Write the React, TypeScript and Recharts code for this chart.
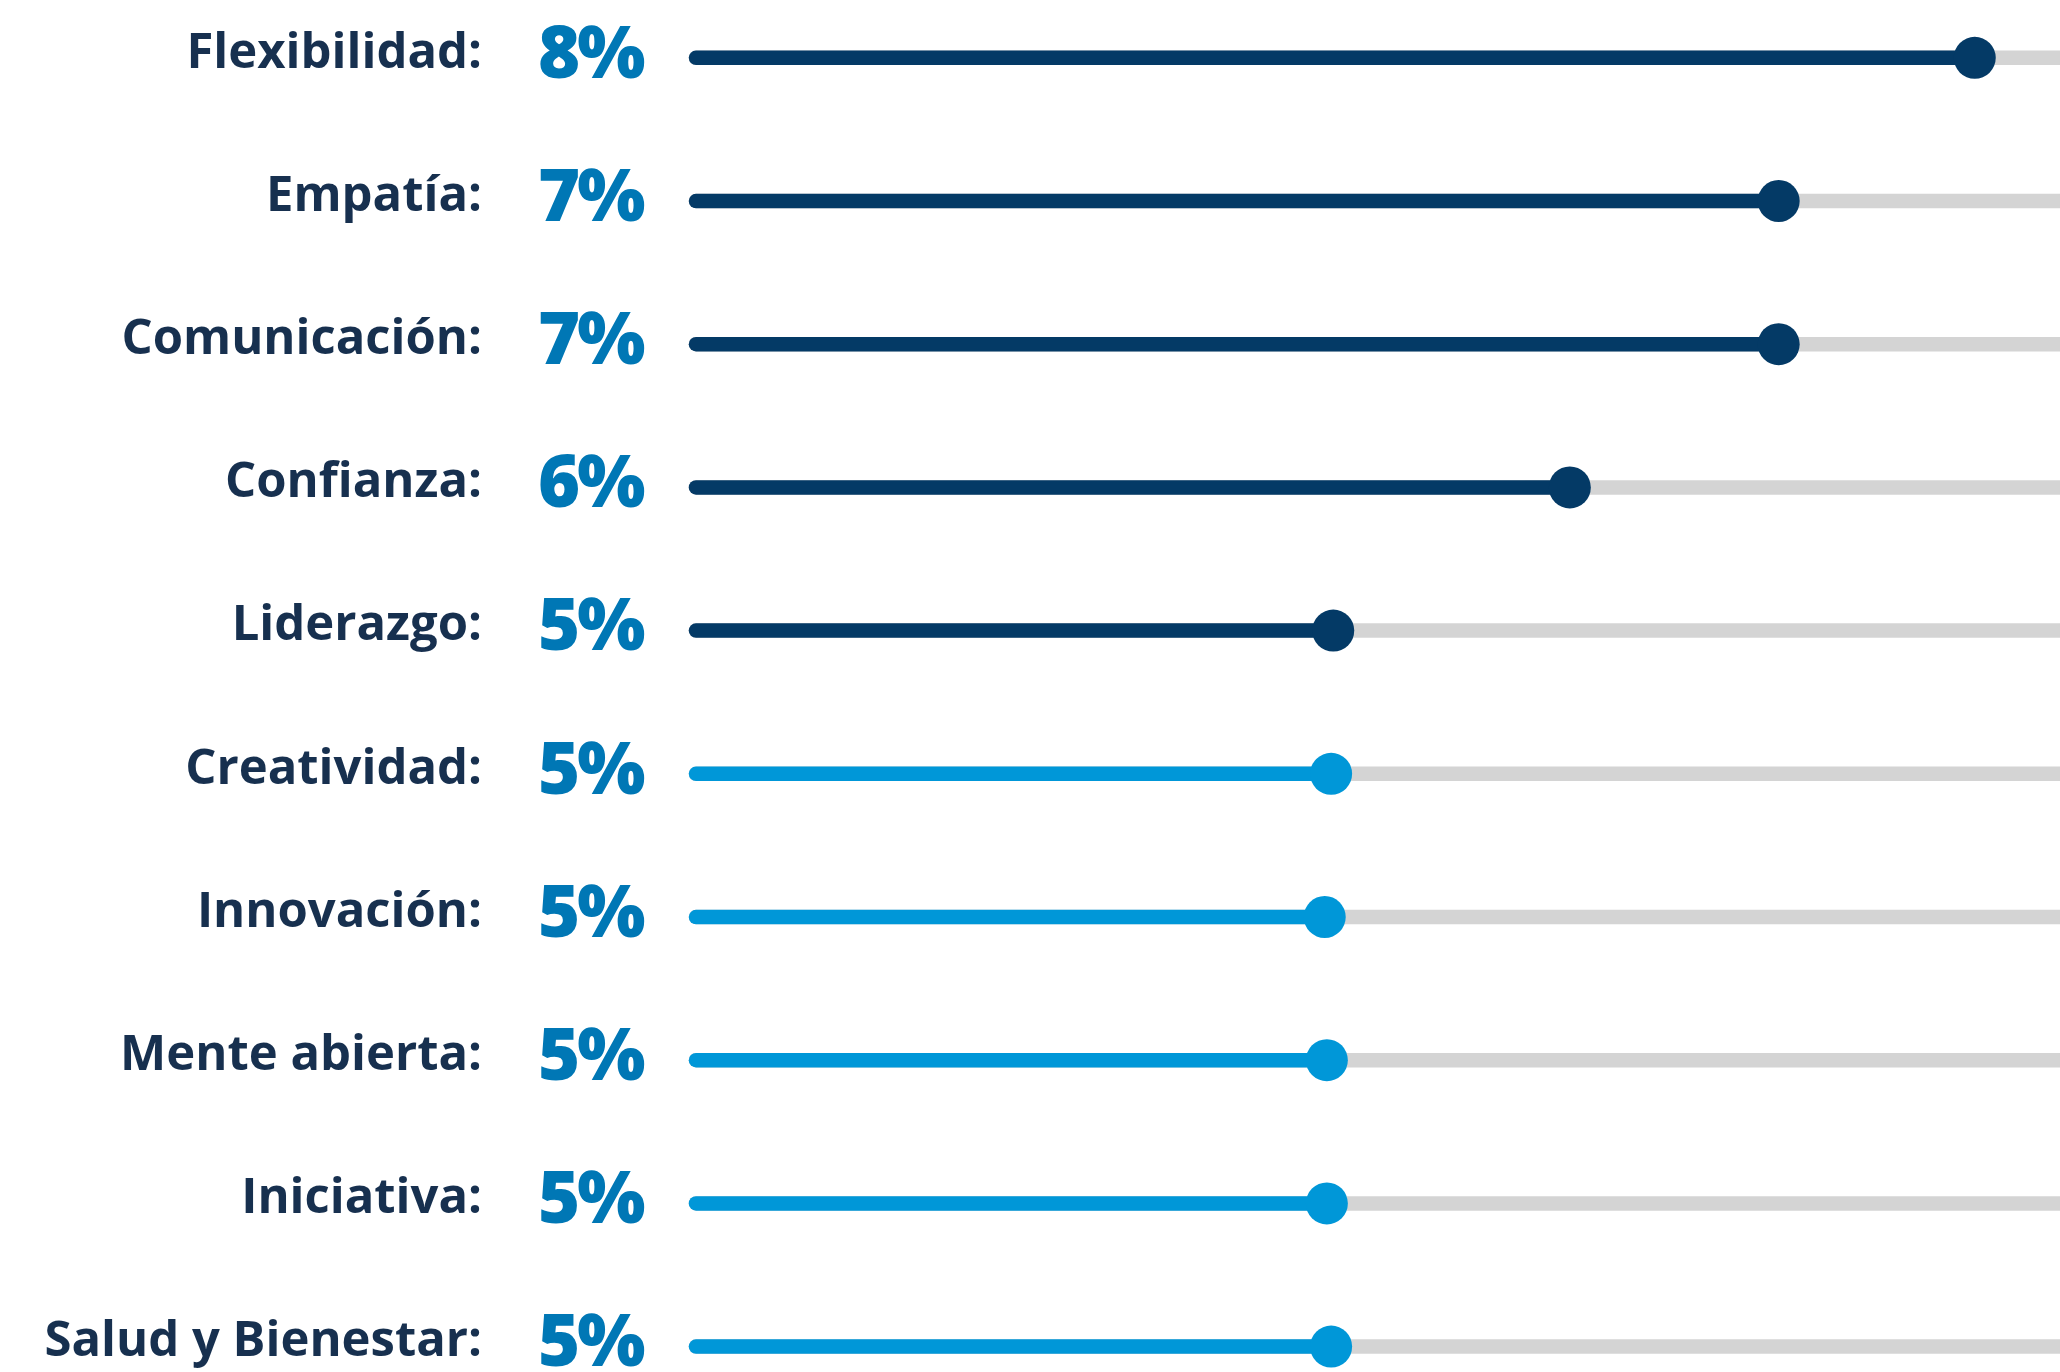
import React from 'react';
import { BarChart, Bar, XAxis, YAxis } from 'recharts';

const skills = [
  'Flexibilidad',
  'Empatía',
  'Comunicación',
  'Confianza',
  'Liderazgo',
  'Creatividad',
  'Innovación',
  'Mente abierta',
  'Iniciativa',
  'Salud y Bienestar',
];
const shares = [8.0, 7.08, 7.08, 6.1, 4.99, 4.98, 4.95, 4.96, 4.96, 4.98];
const shareLabels = ['8%', '7%', '7%', '6%', '5%', '5%', '5%', '5%', '5%', '5%'];
const tiers = ['top', 'top', 'top', 'top', 'top', 'rest', 'rest', 'rest', 'rest', 'rest'];

const data = skills.map((name, i) => ({
  name,
  value: shares[i],
  label: shareLabels[i],
  tier: tiers[i],
}));

const tierColor: Record<string, string> = { top: '#043a66', rest: '#0097d8' };
const LINE_W = 14.5;
const FONT = '"Open Sans", sans-serif';

const Track = (props: any) => {
  const { x, y, width, height } = props;
  const cy = y + height / 2;
  return (
    <line x1={x} y1={cy} x2={x + width} y2={cy} stroke="#d4d4d4" strokeWidth={LINE_W} strokeLinecap="round" />
  );
};

const Slider = (props: any) => {
  const { x, y, width, height, payload } = props;
  const cy = y + height / 2;
  const color = tierColor[payload.tier];
  return (
    <g>
      <line x1={x} y1={cy} x2={x + width} y2={cy} stroke={color} strokeWidth={LINE_W} strokeLinecap="round" />
      <circle cx={x + width} cy={cy} r={21} fill={color} />
    </g>
  );
};

const SkillTick = (props: any) => {
  const { x, y, payload, index } = props;
  return (
    <g>
      <text x={x - 214} y={y + 10} textAnchor="end" fill="#17304f" fontFamily={FONT} fontWeight={700} fontSize={49}>
        {payload.value}:
      </text>
      <text
        x={x - 158}
        y={y + 20}
        textAnchor="start"
        fill="#0077b5"
        fontFamily={FONT}
        fontWeight={800}
        fontSize={72}
        letterSpacing={-3}
      >
        {shareLabels[index]}
      </text>
    </g>
  );
};

export default function App() {
  return (
    <div style={{ position: 'absolute', left: 0, top: 0, width: 2060, height: 1372, overflow: 'hidden', background: '#fff' }}>
      <div style={{ position: 'absolute', left: 0, top: -14 }}>
        <BarChart
          width={2060}
          height={1432}
          data={data}
          layout="vertical"
          margin={{ top: 0, right: 0, bottom: 0, left: 0 }}
        >
          <XAxis type="number" domain={[2, 8.4]} hide />
          <YAxis
            type="category"
            dataKey="name"
            width={696}
            axisLine={false}
            tickLine={false}
            tickSize={0}
            tickMargin={0}
            interval={0}
            tick={<SkillTick />}
          />
          <Bar dataKey="value" background={Track} shape={Slider} isAnimationActive={false} />
        </BarChart>
      </div>
    </div>
  );
}
